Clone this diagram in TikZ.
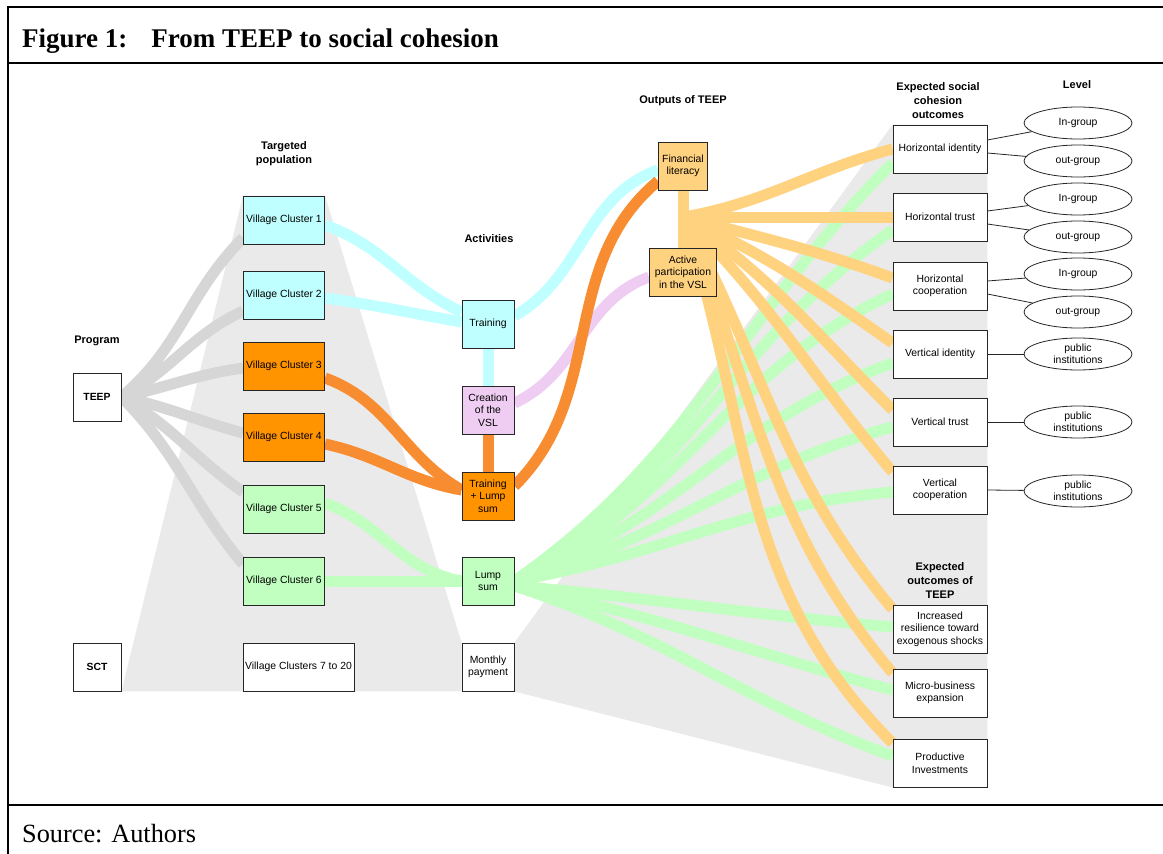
\documentclass[tikz,border=0pt]{standalone}
\usepackage{fontspec}
\setmainfont{Liberation Serif}
\setsansfont{Liberation Sans}
\usetikzlibrary{shapes.geometric}

\definecolor{cyanfill}{HTML}{C0FFFF}
\definecolor{orangefill}{HTML}{FF9300}
\definecolor{orangeband}{HTML}{F78D30}
\definecolor{pinkfill}{HTML}{EFCDF2}
\definecolor{goldfill}{HTML}{FFD27F}
\definecolor{greenfill}{HTML}{C0FFC0}
\definecolor{grayband}{HTML}{D6D6D6}
\definecolor{grayshade}{HTML}{EAEAEA}

\pgfdeclarelayer{shade}
\pgfdeclarelayer{bands}
\pgfsetlayers{shade,bands,main}

\tikzset{
  box/.style={draw=black!85, fill=white, line width=0.9pt, rectangle, minimum height=48pt,
    minimum width=48pt, inner sep=1pt, align=center,
    font=\sffamily\fontsize{10.4}{12.6}\selectfont},
  vcbox/.style={box, minimum width=81pt},
  outbox/.style={box, minimum width=94pt},
  lvl/.style={draw=black!85, fill=white, line width=0.8pt, ellipse, minimum width=108pt,
    minimum height=32pt, inner sep=0pt, align=center,
    font=\sffamily\fontsize{10.4}{12.4}\selectfont},
  head/.style={align=center, font=\sffamily\bfseries\fontsize{11}{14}\selectfont},
  band/.style={line width=11pt},
  link/.style={draw=black!85, line width=0.8pt},
  frame/.style={line width=2pt}
}

\begin{document}
\begin{tikzpicture}[x=1pt, y=-1pt]
 \useasboundingbox (0,0) rectangle (1163,854);

 % frame and caption
 \draw[frame] (1163,7) -- (8,7) -- (8,854);
 \draw[frame] (8,63) -- (1163,63);
 \draw[frame] (8,805) -- (1163,805);
 \node[anchor=base west, inner sep=0pt, font=\bfseries\fontsize{27}{30}\selectfont] (title) at (22,47) {Figure 1:\hspace{24pt}From TEEP to social cohesion};
 \node[anchor=base west, inner sep=0pt, font=\fontsize{26.3}{30}\selectfont] (source) at (22,842) {Source: Authors};

 % program
 \node[head] (hprog) at (97,341) {Program};
 \node[box, font=\sffamily\bfseries\fontsize{10.4}{12.6}\selectfont] (teep) at (97,397) {TEEP};
 \node[box, font=\sffamily\bfseries\fontsize{10.4}{12.6}\selectfont] (sct) at (97,667) {SCT};

 % targeted population
 \node[head] (htarget) at (284,154) {Targeted\\population};
 \node[vcbox, fill=cyanfill] (vc1) at (284,220) {Village Cluster 1};
 \node[vcbox, fill=cyanfill] (vc2) at (284,295) {Village Cluster 2};
 \node[vcbox, fill=orangefill] (vc3) at (284,366) {Village Cluster 3};
 \node[vcbox, fill=orangefill] (vc4) at (284,437) {Village Cluster 4};
 \node[vcbox, fill=greenfill] (vc5) at (284,509) {Village Cluster 5};
 \node[vcbox, fill=greenfill] (vc6) at (284,581) {Village Cluster 6};
 \node[box, minimum width=111pt] (vc7) at (298.5,667) {Village Clusters 7 to 20};

 % activities
 \node[head] (hact) at (489,239) {Activities};
 \node[box, minimum width=52pt, fill=cyanfill] (train) at (488,324) {Training};
 \node[box, minimum width=52pt, fill=pinkfill] (vsl) at (488,410) {Creation\\of the\\VSL};
 \node[box, minimum width=52pt, fill=orangefill] (tls) at (488,496) {Training\\+ Lump\\sum};
 \node[box, minimum width=52pt, fill=greenfill] (ls) at (488,581) {Lump\\sum};
 \node[box, minimum width=52pt] (mp) at (488,667) {Monthly\\payment};

 % outputs
 \node[head] (hout) at (683,101) {Outputs of TEEP};
 \node[box, minimum width=49pt, fill=goldfill] (fl) at (683,166) {Financial\\literacy};
 \node[box, minimum width=67pt, fill=goldfill] (ap) at (683,272) {Active\\participation\\in the VSL};
 \coordinate (hub) at (684,217);

 % social cohesion outcomes
 \node[head] (hsoc) at (938,101) {Expected social\\cohesion\\outcomes};
 \node[outbox] (hid) at (940,149) {Horizontal identity};
 \node[outbox] (htr) at (940,217) {Horizontal trust};
 \node[outbox] (hco) at (940,286) {Horizontal\\cooperation};
 \node[outbox] (vid) at (940,354) {Vertical identity};
 \node[outbox] (vtr) at (940,422) {Vertical trust};
 \node[outbox] (vco) at (940,490) {Vertical\\cooperation};

 % outcomes of TEEP
 \node[head] (hexp) at (940,581) {Expected\\outcomes of\\TEEP};
 \node[outbox] (ir) at (940,629) {Increased\\resilience toward\\exogenous shocks};
 \node[outbox] (mb) at (940,693) {Micro-business\\expansion};
 \node[outbox] (pi) at (940,763) {Productive\\Investments};

 % level
 \node[head] (hlvl) at (1077,85) {Level};
 \node[lvl] (in1) at (1078,123) {In-group};
 \node[lvl] (out1) at (1078,161) {out-group};
 \node[lvl] (in2) at (1078,199) {In-group};
 \node[lvl] (out2) at (1078,237) {out-group};
 \node[lvl] (in3) at (1078,274) {In-group};
 \node[lvl] (out3) at (1078,312) {out-group};
 \node[lvl] (pub1) at (1078,354) {public\\institutions};
 \node[lvl] (pub2) at (1078,422) {public\\institutions};
 \node[lvl] (pub3) at (1078,491) {public\\institutions};

 \draw[link] ([yshift=9pt]hid.east) -- (in1);
 \draw[link] ([yshift=-4pt]hid.east) -- (out1);
 \draw[link] ([yshift=6pt]htr.east) -- (in2);
 \draw[link] ([yshift=-7pt]htr.east) -- (out2);
 \draw[link] ([yshift=5pt]hco.east) -- (in3);
 \draw[link] ([yshift=-8pt]hco.east) -- (out3);
 \draw[link] (vid.east) -- (pub1);
 \draw[link] (vtr.east) -- (pub2);
 \draw[link] (vco.east) -- (pub3);

 % grey shades
 \begin{pgfonlayer}{shade}
  \fill[white] (0,0) rectangle (1163,854);
  \fill[grayshade] (sct.south east) -- (vc1.north west) -- (vc1.north east)
    -- (mp.north west) -- (mp.south west) -- cycle;
  \fill[grayshade] (mp.north east) -- (hid.north west) -- (hid.north east)
    -- (pi.south east) -- (pi.south west) -- (mp.south east) -- cycle;
 \end{pgfonlayer}

 % flows
 \begin{pgfonlayer}{bands}
  \draw[band, grayband] (teep.east) to[out=40, in=225] ([yshift=-18pt]vc1.west);
  \draw[band, grayband] (teep.east) to[out=28, in=205] ([yshift=-16pt]vc2.west);
  \draw[band, grayband] (teep.east) to[out=12, in=188] ([yshift=-2pt]vc3.west);
  \draw[band, grayband] (teep.east) to[out=-12, in=165] ([yshift=4pt]vc4.west);
  \draw[band, grayband] (teep.east) to[out=-30, in=145] ([yshift=17pt]vc5.west);
  \draw[band, grayband] (teep.east) to[out=-45, in=130] ([yshift=17pt]vc6.west);

  \draw[band, cyanfill] ([yshift=-5pt]vc1.east) to[out=-20, in=155] ([yshift=12pt]train.west);
  \draw[band, cyanfill] ([yshift=-3pt]vc2.east) to[out=-8, in=170] ([yshift=2pt]train.west);
  \draw[band, cyanfill] ([yshift=8pt]train.east) to[out=30, in=200] ([yshift=-4pt]fl.west);
  \draw[band, cyanfill] (train.south) -- (vsl.north);

  \draw[band, pinkfill] ([yshift=7pt]vsl.east) to[out=25, in=200] ([yshift=-5pt]ap.west);

  \draw[band, orangeband] ([yshift=-12pt]vc3.east) to[out=-20, in=150] ([yshift=6pt]tls.west);
  \draw[band, orangeband] ([yshift=-7pt]vc4.east) to[out=-12, in=170] ([yshift=6pt]tls.west);
  \draw[band, orangeband] ([yshift=10pt]tls.east) to[out=45, in=220] ([yshift=-15pt]fl.west);
  \draw[band, orangeband] (vsl.south) -- (tls.north);

  \draw[band, greenfill] ([yshift=6pt]vc5.east) to[out=-20, in=170] (ls.west);
  \draw[band, greenfill] (vc6.east) -- (ls.west);
  \draw[band, greenfill] (ls.east) to[out=35, in=225] ([yshift=-14pt]hid.west);
  \draw[band, greenfill] (ls.east) to[out=30, in=215] ([yshift=-13pt]htr.west);
  \draw[band, greenfill] (ls.east) to[out=25, in=205] ([yshift=-8pt]hco.west);
  \draw[band, greenfill] (ls.east) to[out=20, in=200] ([yshift=-9pt]vid.west);
  \draw[band, greenfill] (ls.east) to[out=15, in=195] ([yshift=-5pt]vtr.west);
  \draw[band, greenfill] (ls.east) to[out=10, in=185] ([yshift=-2pt]vco.west);
  \draw[band, greenfill] ([yshift=-5pt]ls.east) to[out=-5, in=175] ([yshift=2pt]ir.west);
  \draw[band, greenfill] ([yshift=-5pt]ls.east) to[out=-12, in=165] ([yshift=3pt]mb.west);
  \draw[band, greenfill] ([yshift=-5pt]ls.east) to[out=-18, in=160] ([yshift=7pt]pi.west);

  \draw[band, goldfill] (fl.south) -- (ap.north);
  \draw[band, goldfill] (hub) to[out=10, in=195] (hid.west);
  \draw[band, goldfill] (hub) -- (htr.west);
  \draw[band, goldfill] (hub) to[out=-15, in=160] ([yshift=8pt]hco.west);
  \draw[band, goldfill] (hub) to[out=-25, in=145] ([yshift=11pt]vid.west);
  \draw[band, goldfill] (hub) to[out=-35, in=135] ([yshift=12pt]vtr.west);
  \draw[band, goldfill] (hub) to[out=-45, in=130] ([yshift=18pt]vco.west);
  \draw[band, goldfill] (hub) to[out=-62, in=130] ([yshift=20pt]ir.west);
  \draw[band, goldfill] (hub) to[out=-68, in=130] ([yshift=20pt]mb.west);
  \draw[band, goldfill] (hub) to[out=-72, in=135] ([yshift=20pt]pi.west);
 \end{pgfonlayer}
\end{tikzpicture}
\end{document}
